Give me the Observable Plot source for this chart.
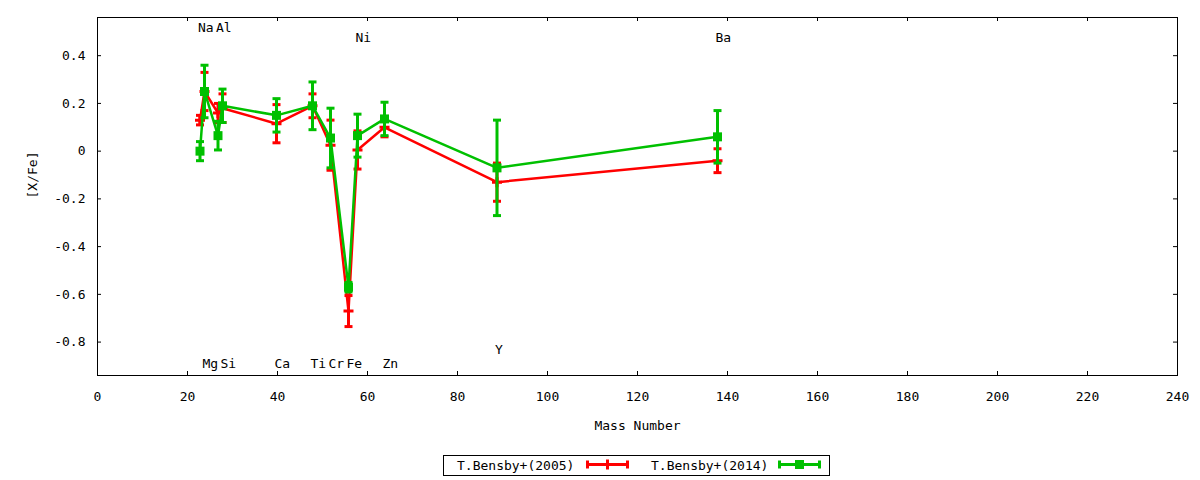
<!DOCTYPE html>
<html>
<head>
<meta charset="utf-8">
<script src="https://cdn.jsdelivr.net/npm/d3@7"></script>
<script src="https://cdn.jsdelivr.net/npm/@observablehq/plot@0.6"></script>
<style>
  html, body { margin: 0; padding: 0; background: #fff; }
  #wrap { position: relative; width: 1200px; height: 480px; font-family: "DejaVu Sans Mono", monospace; }
  #legend { position: absolute; left: 443px; top: 455px; }
</style>
</head>
<body>
<div id="wrap"><div id="chart"></div><div id="legend"></div></div>
<script>
// ---- data ----
const elements = ["Na","Mg","Al","Si","Ca","Ti","Cr","Fe","Ni","Zn","Y","Ba"];
const mass     = [23, 24, 27, 28, 40, 48, 52, 56, 58, 64, 89, 138];
const labelY   = [0.52, -0.885, 0.52, -0.885, -0.885, -0.885, -0.885, -0.885, 0.478, -0.885, -0.83, 0.478];
const bensby2005    = [0.13, 0.25, 0.16, 0.18, 0.115, 0.19, 0.025, -0.67, 0.005, 0.10, -0.13, -0.04];
const bensby2005err = [0.02, 0.08, 0.04, 0.06, 0.08, 0.05, 0.105, 0.065, 0.08, 0.04, 0.08, 0.05];
const bensby2014    = [0.00, 0.25, 0.065, 0.19, 0.15, 0.19, 0.055, -0.57, 0.065, 0.135, -0.07, 0.06];
const bensby2014err = [0.04, 0.11, 0.06, 0.07, 0.07, 0.10, 0.125, 0.02, 0.09, 0.07, 0.20, 0.11];
const xTicks = [0, 20, 40, 60, 80, 100, 120, 140, 160, 180, 200, 220, 240];
const yTicks = [-0.8, -0.6, -0.4, -0.2, 0, 0.2, 0.4];
const seriesNames = ["T.Bensby+(2005)", "T.Bensby+(2014)"];

const RED = "#ff0000", GREEN = "#00c000";
const xDomain = [0, 240], yDomain = [-0.94, 0.56];
const W = 1200, H = 450, mL = 97, mR = 23, mT = 17, mB = 75;
const DX = -1;

const mk = (vals, errs) => elements.map((el, i) => ({el, m: mass[i], v: vals[i], lo: vals[i] - errs[i], hi: vals[i] + errs[i]}));
const s05 = mk(bensby2005, bensby2005err);
const s14 = mk(bensby2014, bensby2014err);
const labels = elements.map((el, i) => ({el, m: mass[i], y: labelY[i]}));

const capSym = {draw(ctx, size) { const r = Math.sqrt(size / Math.PI); ctx.moveTo(-r, 0); ctx.lineTo(r, 0); }};
const plusSym = {draw(ctx, size) { const r = Math.sqrt(size / Math.PI); ctx.moveTo(-r, 0); ctx.lineTo(r, 0); ctx.moveTo(0, -r); ctx.lineTo(0, r); }};
const boxSym = {draw(ctx, size) { const r = Math.sqrt(size / Math.PI); ctx.rect(-r, -r, 2 * r, 2 * r); }};

function seriesMarks(data, color, pointMarks) {
  return [
    Plot.line(data, {x: "m", y: "v", dx: DX, stroke: color, strokeWidth: 2.5}),
    Plot.ruleX(data, {x: "m", y1: "lo", y2: "hi", dx: DX, stroke: color, strokeWidth: 3}),
    Plot.dot(data, {x: "m", y: "lo", dx: DX, symbol: capSym, r: 4, stroke: color, strokeWidth: 3, fill: "none"}),
    Plot.dot(data, {x: "m", y: "hi", dx: DX, symbol: capSym, r: 4, stroke: color, strokeWidth: 3, fill: "none"}),
    ...pointMarks
  ];
}

const pxX = (xDomain[1] - xDomain[0]) / (W - mL - mR);
const pxY = (yDomain[1] - yDomain[0]) / (H - mT - mB);
const tl = 4;

const chart = Plot.plot({
  width: W, height: H,
  marginLeft: mL, marginRight: mR, marginTop: mT, marginBottom: mB,
  style: {fontFamily: "'DejaVu Sans Mono', monospace", fontSize: "13px", background: "#fff", color: "#000"},
  x: {domain: xDomain},
  y: {domain: yDomain},
  marks: [
    Plot.axisX(xTicks, {tickSize: 0, tickPadding: 16, fontSize: 13, label: null, tickFormat: d => String(d)}),
    Plot.axisY(yTicks, {tickSize: 0, tickPadding: 12, fontSize: 13, label: null, tickFormat: d => d === 0 ? "0" : d.toFixed(1)}),
    Plot.ruleX(xTicks, {x: d => d, y1: yDomain[0], y2: yDomain[0] + tl * pxY, stroke: "#000"}),
    Plot.ruleX(xTicks, {x: d => d, y1: yDomain[1], y2: yDomain[1] - tl * pxY, stroke: "#000"}),
    Plot.ruleY(yTicks, {y: d => d, x1: xDomain[0], x2: xDomain[0] + tl * pxX, stroke: "#000"}),
    Plot.ruleY(yTicks, {y: d => d, x1: xDomain[1], x2: xDomain[1] - tl * pxX, stroke: "#000"}),
    Plot.text(labels, {x: "m", y: "y", text: "el", textAnchor: "start", dx: -3, dy: 1, fontSize: 13, fill: "#000"}),
    ...seriesMarks(s05, RED, [
      Plot.dot(s05, {x: "m", y: "v", dx: DX, symbol: plusSym, r: 5, stroke: RED, strokeWidth: 3, fill: "none"})
    ]),
    ...seriesMarks(s14, GREEN, [
      Plot.dot(s14, {x: "m", y: "v", dx: DX, symbol: boxSym, r: 4.5, fill: GREEN, stroke: "none"})
    ]),
    Plot.frame({stroke: "#000", strokeWidth: 1}),
    Plot.text(["[X/Fe]"], {frameAnchor: "left", rotate: -90, dx: -65, dy: 2, fontSize: 13, fill: "#000"}),
    Plot.text(["Mass Number"], {frameAnchor: "bottom", dy: 54, fontSize: 13, fill: "#000"})
  ]
});
document.getElementById("chart").appendChild(chart);

// ---- legend (below the SVG) ----
const lg = d3.select("#legend").append("svg").attr("width", 388).attr("height", 22)
  .style("font-family", "'DejaVu Sans Mono', monospace").style("font-size", "13px");
lg.append("rect").attr("x", 0.5).attr("y", 0.5).attr("width", 386).attr("height", 20)
  .attr("fill", "none").attr("stroke", "#000");
const entries = [
  {name: seriesNames[0], color: RED, tx: 14, sx: 143, kind: "plus"},
  {name: seriesNames[1], color: GREEN, tx: 208, sx: 335, kind: "box"}
];
entries.forEach(e => {
  lg.append("text").attr("x", e.tx).attr("y", 10.5).attr("dy", "0.35em").attr("fill", "#000").text(e.name);
  const cy = 9.5, x1 = e.sx, x2 = e.sx + 43, xm = (x1 + x2) / 2;
  lg.append("line").attr("x1", x1).attr("x2", x2).attr("y1", cy).attr("y2", cy).attr("stroke", e.color).attr("stroke-width", 3);
  [x1 + 1.5, x2 - 1.5].forEach(x => lg.append("line").attr("x1", x).attr("x2", x).attr("y1", cy - 4).attr("y2", cy + 4).attr("stroke", e.color).attr("stroke-width", 3));
  if (e.kind === "plus") {
    lg.append("line").attr("x1", xm).attr("x2", xm).attr("y1", cy - 5).attr("y2", cy + 5).attr("stroke", e.color).attr("stroke-width", 3);
  } else {
    lg.append("rect").attr("x", xm - 4.5).attr("y", cy - 4.5).attr("width", 9).attr("height", 9).attr("fill", e.color);
  }
});
</script>
</body>
</html>
